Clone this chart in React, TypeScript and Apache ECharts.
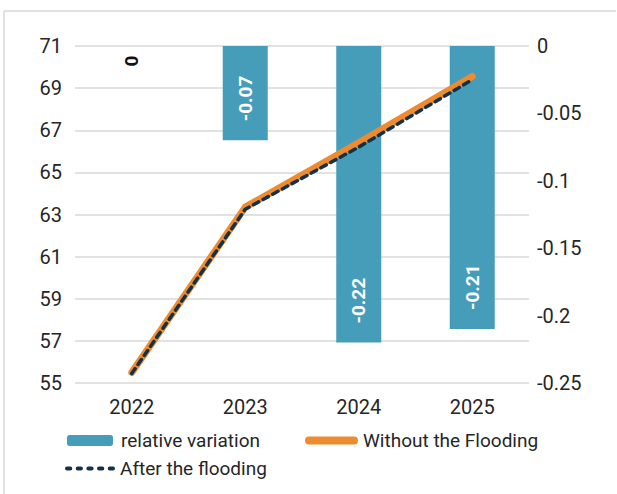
import React, { useEffect, useRef } from "react";
import * as echarts from "echarts";

const years = ["2022", "2023", "2024", "2025"];
const relativeVariation = [0, -0.07, -0.22, -0.21];
const withoutFlooding = [55.5, 63.35, 66.4, 69.55];
const afterFlooding = [55.45, 63.25, 66.2, 69.4];

const FONT = "Roboto, 'Noto Sans', sans-serif";
const TEXT = "#262626";
const GRID = "#d9d9d9";

const dash = (x: number) => `M${x + 2},0h3.3a2,2 0 0 1 0,4h-3.3a2,2 0 0 1 0,-4z`;
const DASH_ICON = "path://" + [0, 10.7, 21.4, 32.1, 42.8].map(dash).join(" ");
const PILL_ICON = "path://M4,0h45a4,4 0 0 1 0,8h-45a4,4 0 0 1 0,-8z";

export default function App() {
  const ref = useRef<HTMLDivElement>(null);
  useEffect(() => {
    if (!ref.current) return;
    const chart = echarts.init(ref.current, undefined, { renderer: "svg" });
    const barData = relativeVariation.map((v, i) =>
      i === 0
        ? {
            value: v,
            label: {
              position: ["50%", 15],
              align: "center",
              verticalAlign: "middle",
              color: "#111",
            },
          }
        : v
    );
    chart.setOption({
      animation: false,
      textStyle: { fontFamily: FONT },
      grid: { left: 75, right: 88, top: 46, bottom: 111 },
      graphic: [
        {
          type: "line",
          shape: { x1: 4, y1: 11, x2: 616, y2: 11 },
          style: { stroke: GRID, lineWidth: 1.5 },
        },
        {
          type: "line",
          shape: { x1: 4, y1: 11, x2: 4, y2: 494 },
          style: { stroke: GRID, lineWidth: 1.5 },
        },
      ],
      xAxis: {
        type: "category",
        data: years,
        axisLine: { show: false },
        axisTick: { show: false },
        axisLabel: { fontSize: 20, color: TEXT, margin: 14, fontFamily: FONT },
      },
      yAxis: [
        {
          type: "value",
          min: 55,
          max: 71,
          interval: 2,
          axisLine: { show: false },
          axisTick: { show: false },
          splitLine: { lineStyle: { color: GRID, width: 1.5 } },
          axisLabel: { fontSize: 20, color: TEXT, margin: 13, fontFamily: FONT },
        },
        {
          type: "value",
          min: -0.25,
          max: 0,
          interval: 0.05,
          axisLine: { show: false },
          axisTick: { show: false },
          splitLine: { show: false },
          axisLabel: { fontSize: 20, color: TEXT, margin: 8, fontFamily: FONT },
        },
      ],
      legend: [
        {
          data: ["relative variation"],
          left: 67,
          top: 431,
          padding: 0,
          itemWidth: 46,
          itemHeight: 11,
          textStyle: { fontSize: 19, color: TEXT, fontFamily: FONT, padding: [0, 0, 0, 3] },
        },
        {
          data: [{ name: "Without the Flooding", icon: PILL_ICON }],
          left: 305,
          top: 431,
          padding: 0,
          itemWidth: 53,
          itemHeight: 8,
          textStyle: { fontSize: 19, color: TEXT, fontFamily: FONT },
        },
        {
          data: [{ name: "After the flooding", icon: DASH_ICON }],
          left: 65,
          top: 459,
          padding: 0,
          itemWidth: 50,
          itemHeight: 4,
          textStyle: { fontSize: 19, color: TEXT, fontFamily: FONT },
        },
      ],
      series: [
        {
          name: "relative variation",
          type: "bar",
          yAxisIndex: 1,
          barWidth: 45,
          data: barData,
          itemStyle: { color: "#459DBA" },
          label: {
            show: true,
            position: "insideBottom",
            distance: 19,
            rotate: 90,
            align: "left",
            verticalAlign: "middle",
            color: "#fff",
            fontWeight: "bold",
            fontSize: 19,
            fontFamily: FONT,
          },
        },
        {
          name: "Without the Flooding",
          type: "line",
          yAxisIndex: 0,
          data: withoutFlooding,
          symbol: "none",
          lineStyle: { color: "#EE8B2F", width: 7, cap: "round", join: "round" },
          itemStyle: { color: "#EE8B2F" },
          z: 3,
        },
        {
          name: "After the flooding",
          type: "line",
          yAxisIndex: 0,
          data: afterFlooding,
          symbol: "none",
          lineStyle: { color: "#11324A", width: 3.5, type: [6, 5], cap: "round", join: "round" },
          itemStyle: { color: "#11324A" },
          z: 4,
        },
      ],
    });
    return () => chart.dispose();
  }, []);
  return (
    <div
      ref={ref}
      style={{ position: "absolute", left: 0, top: 0, width: 617, height: 494, background: "#fff" }}
    />
  );
}
